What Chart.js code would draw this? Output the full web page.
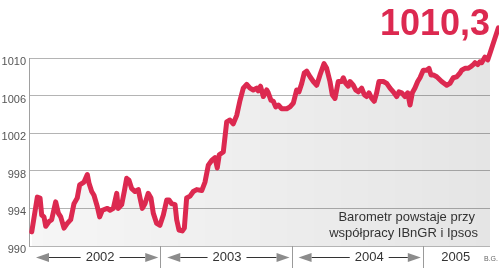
<!DOCTYPE html>
<html>
<head>
<meta charset="utf-8">
<script src="https://cdn.jsdelivr.net/npm/chart.js@4.4.1/dist/chart.umd.min.js"></script>
<style>
  html, body { margin: 0; padding: 0; background: #fff; }
  #wrap { width: 499px; height: 268px; }
</style>
</head>
<body>
<div id="wrap"><canvas id="baroChart" width="499" height="268"></canvas></div>
<script>
// Time in months since January 2002 (weekly readings)
let months = [0.25, 0.76, 1.01, 1.16, 1.37, 1.53, 1.83, 2.07, 2.44, 2.68, 2.90, 3.20, 3.50, 3.81, 4.11, 4.41,
  4.63, 5.03, 5.33, 5.48, 5.73, 5.94, 6.24, 6.46, 6.70, 7.16, 7.40, 7.71, 8.02, 8.16, 8.47, 8.71, 8.93, 9.14,
  9.39, 9.69, 9.99, 10.15, 10.36, 10.60, 10.90, 11.15, 11.36, 11.67, 11.97, 12.28, 12.59, 12.80, 13.04, 13.35,
  13.50, 13.71, 14.01, 14.20, 14.41, 14.72, 15.02, 15.33, 15.79, 16.09, 16.39, 16.70, 17.00, 17.21, 17.39,
  17.76, 18.07, 18.37, 18.67, 18.99, 19.29, 19.59, 19.90, 20.20, 20.50, 20.81, 20.96, 21.16, 21.42, 21.73,
  21.87, 22.12, 22.33, 22.55, 22.79, 23.10, 23.56, 23.86, 24.16, 24.47, 24.68, 24.93, 25.16, 25.38, 25.69,
  25.99, 26.30, 26.60, 26.97, 27.21, 27.51, 27.72, 27.97, 28.27, 28.58, 28.73, 28.95, 29.19, 29.34, 29.64,
  29.86, 30.10, 30.41, 30.65, 30.87, 31.08, 31.33, 31.56, 31.78, 31.99, 32.39, 32.70, 33.00, 33.30, 33.61,
  33.82, 34.07, 34.37, 34.62, 34.83, 35.04, 35.28, 35.53, 35.74, 36.04, 36.35, 36.56, 36.75, 36.96, 37.27,
  37.72, 38.18, 38.48, 38.78, 39.09, 39.40, 39.55, 39.85, 40.16, 40.40, 40.61, 40.77, 41.01, 41.22, 41.38,
  41.68, 41.93, 42.14, 42.90];

// Barometer index values
let barometr = [991.5, 995.2, 995.1, 993.3, 993.1, 992.1, 992.6, 992.8, 994.7, 993.5, 993.1, 991.9, 992.4, 992.8, 994.5, 995.1,
  996.5, 996.8, 997.6, 996.7, 995.8, 995.4, 994.2, 993.1, 993.8, 994.0, 993.8, 994.0, 995.6, 994.0, 994.4, 995.8, 997.2, 997.0,
  996.1, 995.8, 996.0, 995.1, 994.0, 994.5, 995.6, 995.1, 993.5, 992.4, 992.2, 993.3, 994.9, 994.9, 994.5, 994.4,
  992.8, 991.7, 991.6, 991.9, 995.1, 995.3, 995.8, 996.0, 995.9, 996.8, 998.6, 999.1, 999.4, 998.3, 999.7,
  1000.0, 1003.2, 1003.4, 1003.0, 1003.9, 1005.5, 1006.8, 1007.2, 1006.8, 1006.6, 1006.8, 1006.5, 1007.0, 1005.9, 1006.6,
  1006.3, 1005.5, 1005.4, 1004.8, 1005.0, 1004.6, 1004.6, 1004.8, 1005.2, 1006.6, 1006.4, 1007.3, 1008.4, 1008.6, 1008.0,
  1007.5, 1007.1, 1008.2, 1009.4, 1008.9, 1007.5, 1006.1, 1005.7, 1007.5, 1007.5, 1007.9, 1007.3, 1007.0, 1007.5, 1007.1,
  1006.6, 1006.4, 1006.8, 1006.1, 1005.9, 1006.3, 1005.7, 1005.4, 1006.3, 1007.5, 1007.5, 1007.3, 1006.8, 1006.4, 1005.9,
  1006.4, 1006.3, 1005.9, 1006.3, 1005.0, 1006.3, 1006.8, 1007.5, 1007.9, 1008.7, 1008.7, 1008.9, 1008.2, 1008.2, 1008.0,
  1007.5, 1007.1, 1007.3, 1007.9, 1008.0, 1008.4, 1008.7, 1008.9, 1008.9, 1009.1, 1009.3, 1009.5, 1009.3, 1009.6, 1009.5,
  1010.1, 1009.8, 1010.5, 1013.2];

let years = ['2002', '2003', '2004', '2005'];
let yearLabelAt = [6.5, 18.1, 31.1, 39.0];   // where each year label sits (months)
let yearBounds = [0, 12, 24, 36];
let yTicks = [990, 994, 998, 1002, 1006, 1010];
let lastValue = '1010,3';
let note = ['Barometr powstaje przy', 'współpracy IBnGR i Ipsos'];

let xMax = 42.14;
let red = '#dc2950';

let linePoints = months.map((m, i) => ({ x: m, y: barometr[i] }));
let fillPoints = linePoints.filter(p => p.x <= xMax);

// arrows, separators and the note under/over the plot
const decorPlugin = {
    id: 'decor',
    afterDraw(chart) {
        let ctx = chart.ctx;
        let xs = chart.scales.x;
        let area = chart.chartArea;
        let yMid = area.bottom + 11;
        ctx.save();
        // year separators
        ctx.strokeStyle = '#9a9a9a';
        ctx.lineWidth = 1;
        yearBounds.slice(1).forEach(b => {
            let px = Math.round(xs.getPixelForValue(b)) + 0.5;
            ctx.beginPath();
            ctx.moveTo(px, area.bottom);
            ctx.lineTo(px, chart.height);
            ctx.stroke();
        });
        // arrows for the full years
        ctx.font = '13px "Liberation Sans", Arial, sans-serif';
        for (let i = 0; i < 3; i++) {
            let x0 = xs.getPixelForValue(yearBounds[i]) + 7;
            let x1 = xs.getPixelForValue(yearBounds[i] + 12) - 2;
            let cx = xs.getPixelForValue(yearLabelAt[i]);
            let tw = ctx.measureText(years[i]).width;
            let head = 13;
            ctx.strokeStyle = '#333';
            ctx.beginPath();
            ctx.moveTo(x0 + head, yMid + 0.5); ctx.lineTo(cx - tw / 2 - 5, yMid + 0.5);
            ctx.moveTo(cx + tw / 2 + 5, yMid + 0.5); ctx.lineTo(x1 - head, yMid + 0.5);
            ctx.stroke();
            ctx.fillStyle = '#8c8c8c';
            ctx.beginPath();
            ctx.moveTo(x0, yMid + 0.5); ctx.lineTo(x0 + head, yMid - 4); ctx.lineTo(x0 + head, yMid + 5);
            ctx.closePath(); ctx.fill();
            ctx.beginPath();
            ctx.moveTo(x1, yMid + 0.5); ctx.lineTo(x1 - head, yMid - 4); ctx.lineTo(x1 - head, yMid + 5);
            ctx.closePath(); ctx.fill();
        }
        // note
        ctx.fillStyle = '#333';
        ctx.textAlign = 'right';
        ctx.textBaseline = 'middle';
        ctx.font = '13px "Liberation Sans", Arial, sans-serif';
        ctx.fillText(note[0], 475, 217);
        ctx.fillText(note[1], 478, 233);
        ctx.font = '7px "Liberation Sans", Arial, sans-serif';
        ctx.fillStyle = '#666';
        ctx.fillText('B.G.', 498, 259);
        ctx.restore();
    }
};

let ctx = document.getElementById('baroChart').getContext('2d');
window.myChart = new Chart(ctx, {
    type: 'line',
    data: {
        datasets: [{
            data: linePoints,
            borderColor: red,
            borderWidth: 5,
            borderJoinStyle: 'round',
            borderCapStyle: 'round',
            pointRadius: 0,
            tension: 0,
            fill: false,
            clip: false
        }, {
            data: fillPoints,
            borderWidth: 0,
            pointRadius: 0,
            tension: 0,
            fill: 'start',
            backgroundColor: function (c) {
                let a = c.chart.chartArea;
                if (!a) return 'rgba(0,0,0,0.07)';
                let g = c.chart.ctx.createLinearGradient(a.left, 0, a.right, 0);
                g.addColorStop(0, 'rgba(0,0,0,0.035)');
                g.addColorStop(1, 'rgba(0,0,0,0.1)');
                return g;
            }
        }]
    },
    options: {
        responsive: false,
        animation: false,
        layout: { padding: { left: 0, right: 9, top: 0, bottom: 0 } },
        plugins: {
            legend: { display: false },
            tooltip: { enabled: false },
            title: {
                display: true,
                text: lastValue,
                align: 'end',
                color: red,
                font: { family: '"Liberation Sans", Arial, sans-serif', size: 36, weight: 'bold', lineHeight: 1 },
                padding: { top: 7, bottom: 15 }
            }
        },
        scales: {
            x: {
                type: 'linear',
                bounds: 'data',
                // range set here so the last point, past the right edge, is still drawn
                afterDataLimits: s => { s.min = 0; s.max = xMax; },
                grid: { display: false, drawTicks: false },
                border: { display: false },
                afterBuildTicks: s => { s.ticks = yearLabelAt.map(v => ({ value: v })); },
                afterFit: s => { s.height = 22; },
                ticks: {
                    autoSkip: false,
                    maxRotation: 0,
                    padding: 4,
                    color: '#333',
                    font: { family: '"Liberation Sans", Arial, sans-serif', size: 13 },
                    callback: (v, i) => years[i]
                }
            },
            y: {
                min: 990,
                max: 1010,
                afterBuildTicks: s => { s.ticks = yTicks.map(v => ({ value: v })); },
                afterFit: s => { s.width = 29; },
                grid: { color: '#b4b4b4', drawTicks: false },
                border: { display: true, color: '#a0a0a0' },
                ticks: {
                    padding: 3,
                    labelOffset: 4,
                    color: '#555',
                    font: { family: '"Liberation Sans", Arial, sans-serif', size: 11 },
                    callback: v => String(v)
                }
            }
        }
    },
    plugins: [decorPlugin]
});
</script>
</body>
</html>
